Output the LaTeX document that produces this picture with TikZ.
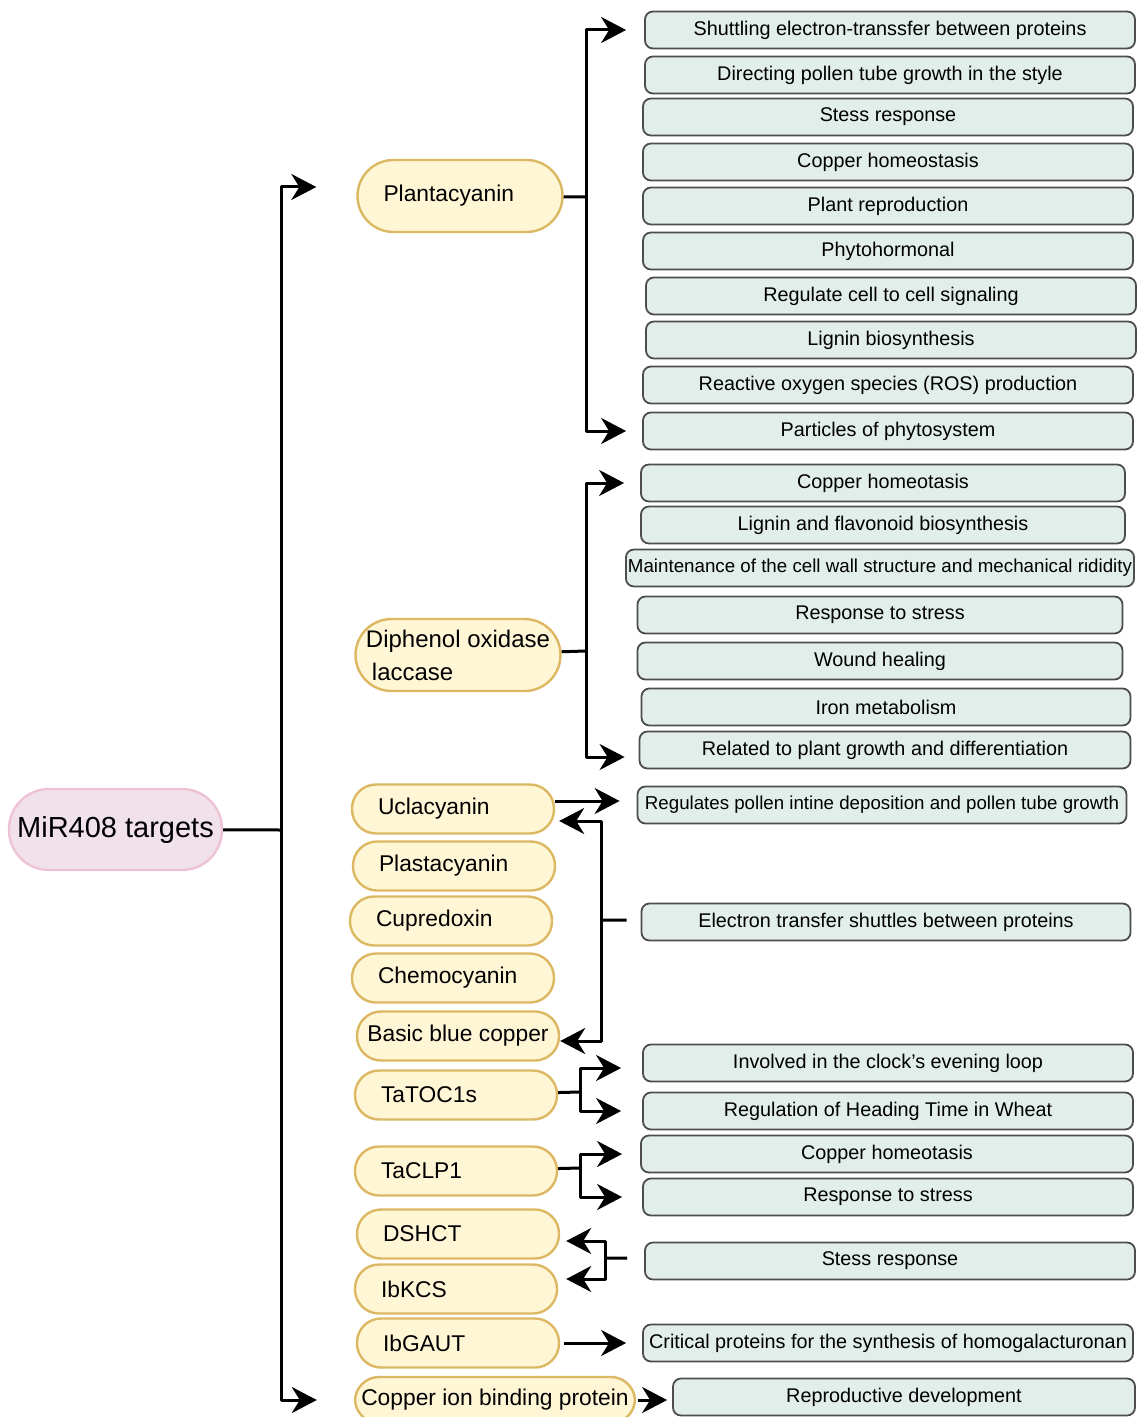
\documentclass[tikz,border=0pt]{standalone}
\usepackage{fontspec}
\setmainfont{Liberation Sans}
\usetikzlibrary{arrows.meta}
\definecolor{ylwfill}{HTML}{FFF6D6}
\definecolor{ylwline}{HTML}{DDB862}
\definecolor{grnfill}{HTML}{E2EEEA}
\definecolor{grnline}{HTML}{4D4D4D}
\definecolor{pnkfill}{HTML}{F1E1EB}
\definecolor{pnkline}{HTML}{EDC3D5}
\tikzset{
	tgbox/.style={draw=ylwline, fill=ylwfill, line width=1.2pt, rounded corners=12pt, minimum height=24.5pt, font=\fontsize{11.4}{13.7}\selectfont},
	tg/.style={tgbox, text width=75pt, inner xsep=13pt, align=left},
	fn/.style={draw=grnline, fill=grnfill, line width=0.9pt, rounded corners=4pt, minimum width=245pt, minimum height=18.5pt, inner sep=1pt, font=\fontsize{9.9}{12}\selectfont},
	link/.style={line width=1.5pt},
}
\begin{document}
\begin{tikzpicture}[x=0.5pt, y=-0.5pt, line join=round, >={Stealth[length=12.5pt,width=13pt,inset=4pt]}]
	\useasboundingbox (0,0) rectangle (1136,1417);
	% root
	\node[draw=pnkline, fill=pnkfill, line width=1.2pt, rounded corners=20pt, minimum width=106.5pt, minimum height=40.5pt, font=\fontsize{14.5}{17}\selectfont] (mir) at (115.5,829.5) {MiR408 targets};
	% targets
	\node[tg, minimum height=36pt, rounded corners=18pt, text width=76.5pt] (plant) at (460,196) {Plantacyanin};
	\node[tgbox, minimum height=36pt, minimum width=102.5pt, rounded corners=18pt, inner xsep=4pt, align=left, font=\fontsize{12}{16.5}\selectfont] (diph) at (458,655) {Diphenol oxidase\\\hspace*{3pt}laccase};
	\node[tg] (ucl) at (453,809) {Uclacyanin};
	\node[tg] (plas) at (454,866) {Plastacyanin};
	\node[tg] (cup) at (451,921) {Cupredoxin};
	\node[tg] (chem) at (453,978) {Chemocyanin};
	\node[tgbox, minimum width=101pt] (bbc) at (458,1036) {Basic blue copper};
	\node[tg] (toc) at (456,1095) {TaTOC1s};
	\node[tg] (clp) at (456,1171) {TaCLP1};
	\node[tg] (dsh) at (458,1234) {DSHCT};
	\node[tg] (kcs) at (456,1289) {IbKCS};
	\node[tg] (gaut) at (458,1343) {IbGAUT};
	\node[tgbox, minimum height=23pt, minimum width=140pt, inner xsep=2pt] (cib) at (495,1400) {Copper ion binding protein};
	% functions of plantacyanin
	\node[fn] (p1) at (890,30) {Shuttling electron-transsfer between proteins};
	\node[fn] (p2) at (890,75) {Directing pollen tube growth in the style};
	\node[fn] (p3) at (888,117) {Stess response};
	\node[fn] (p4) at (888,162) {Copper homeostasis};
	\node[fn] (p5) at (888,206) {Plant reproduction};
	\node[fn] (p6) at (888,251) {Phytohormonal};
	\node[fn] (p7) at (891,296) {Regulate cell to cell signaling};
	\node[fn] (p8) at (891,340) {Lignin biosynthesis};
	\node[fn] (p9) at (888,385) {Reactive oxygen species (ROS) production};
	\node[fn] (p10) at (888,431) {Particles of phytosystem};
	% functions of laccase
	\node[fn, minimum width=242pt] (d1) at (883,483) {Copper homeotasis};
	\node[fn, minimum width=242pt] (d2) at (883,525) {Lignin and flavonoid biosynthesis};
	\node[fn, minimum width=253pt, font=\fontsize{9.37}{11}\selectfont] (d3) at (880,568) {Maintenance of the cell wall structure and mechanical rididity};
	\node[fn, minimum width=242.5pt] (d4) at (880,615) {Response to stress};
	\node[fn, minimum width=242.5pt] (d5) at (880,661) {Wound healing};
	\node[fn, minimum width=244.5pt] (d6) at (886,707) {Iron metabolism};
	\node[fn, minimum width=245.5pt] (d7) at (885,750) {Related to plant growth and differentiation};
	% other functions
	\node[fn, minimum width=244.5pt, font=\fontsize{9.35}{11}\selectfont] (r18) at (882,805) {Regulates pollen intine deposition and pollen tube growth};
	\node[fn, minimum width=244.5pt] (r19) at (886,922) {Electron transfer shuttles between proteins};
	\node[fn] (r20) at (888,1063) {Involved in the clock’s evening loop};
	\node[fn] (r21) at (888,1111) {Regulation of Heading Time in Wheat};
	\node[fn, minimum width=246pt] (r22) at (887,1154) {Copper homeotasis};
	\node[fn] (r23) at (888,1197) {Response to stress};
	\node[fn] (r24) at (890,1261) {Stess response};
	\node[fn] (r25) at (888,1343) {Critical proteins for the synthesis of homogalacturonan};
	\node[fn, minimum width=231pt] (r26) at (904,1397) {Reproductive development};
	% junctions
	\path (281,830) coordinate (jm)
	(586,197) coordinate (jp)
	(586,651) coordinate (jd)
	(601,920) coordinate (je)
	(580,1092) coordinate (jt)
	(580,1168) coordinate (jc)
	(605,1258) coordinate (js);
	% connectors
	\draw[link] (mir) -- (jm);
	\draw[link,->,shorten >=20pt] (jm) |- ([yshift=4.5pt]plant.west);
	\draw[link,->,shorten >=18.5pt] (jm) |- (cib.west);
	\draw[link] (plant) -- (jp);
	\draw[link,->,shorten >=9pt] (jp) |- (p1.west);
	\draw[link,->,shorten >=8pt] (jp) |- (p10.west);
	\draw[link] (diph) -- (jd);
	\draw[link,->,shorten >=8pt] (jd) |- (d1.west);
	\draw[link,->,shorten >=7pt] (jd) |- ([yshift=-3.5pt]d7.west);
	\draw[link,->,shorten >=8.5pt] ([yshift=4pt]ucl.east) -- ([yshift=4pt]ucl.east -| r18.west);
	\draw[link,shorten <=7pt] (r19) -- (je);
	\draw[link,->,shorten >=2pt] (je) |- ([yshift=-6pt]ucl.east);
	\draw[link,->] (je) |- ([yshift=-2.5pt]bbc.east);
	\draw[link] (toc) -- (jt);
	\draw[link,->,shorten >=10.5pt] (jt) |- ([yshift=-2.5pt]r20.west);
	\draw[link,->,shorten >=10.5pt] (jt) |- (r21.west);
	\draw[link] (clp) -- (jc);
	\draw[link,->,shorten >=9pt] (jc) |- (r22.west);
	\draw[link,->,shorten >=10pt] (jc) |- (r23.west);
	\draw[link,shorten <=8.5pt] (r24) -- (js);
	\draw[link,->,shorten >=3pt] (js) |- ([yshift=-3.5pt]dsh.east);
	\draw[link,->,shorten >=4pt] (js) |- ([yshift=5pt]kcs.east);
	\draw[link,->,shorten <=2pt,shorten >=8pt] (gaut.east) -- (gaut.east -| r25.west);
	\draw[link,->,shorten <=1pt,shorten >=2.5pt] (cib.east) -- (cib.east -| r26.west);
\end{tikzpicture}
\end{document}
